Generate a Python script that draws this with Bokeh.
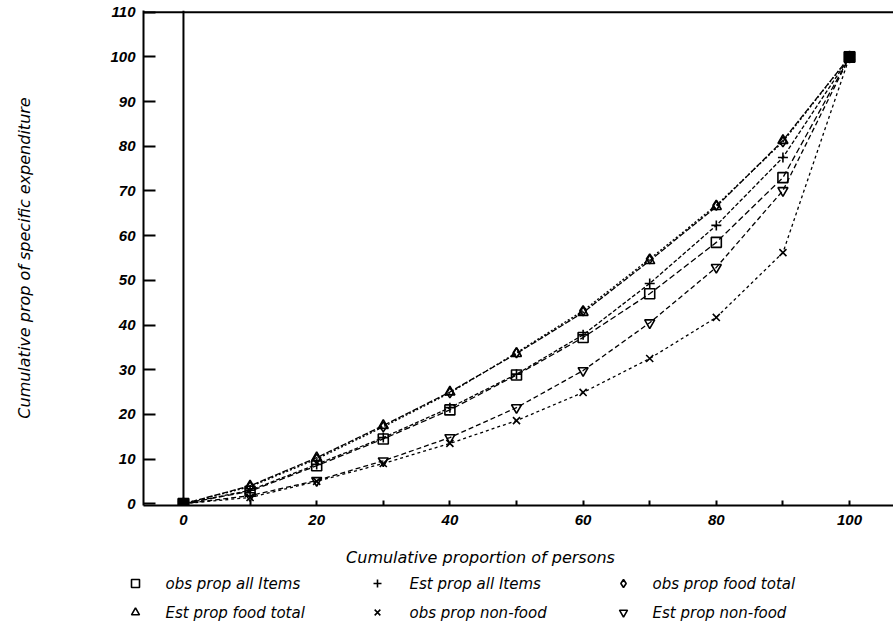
from bokeh.plotting import figure
from bokeh.layouts import column
from bokeh.models import Span, FixedTicker, Range1d
from bokeh.core.properties import value
from bokeh.embed import file_html
from bokeh.resources import INLINE

# ---- data ----
persons = [0, 10, 20, 30, 40, 50, 60, 70, 80, 90, 100]
obs_all_items = [0, 2.8, 8.5, 14.5, 21.0, 28.8, 37.2, 47.0, 58.5, 73.0, 100]
est_all_items = [0, 3.0, 8.8, 14.8, 21.5, 29.0, 37.8, 49.3, 62.3, 77.5, 100]
obs_food_total = [0, 3.8, 10.0, 17.2, 24.8, 33.8, 43.2, 54.8, 66.8, 81.0, 100]
est_food_total = [0, 4.0, 10.3, 17.5, 25.0, 33.6, 42.8, 54.4, 66.5, 81.3, 100]
obs_non_food = [0, 1.4, 5.0, 9.0, 13.5, 18.6, 24.9, 32.5, 41.7, 56.2, 100]
est_non_food = [0, 1.8, 5.2, 9.6, 14.8, 21.5, 29.8, 40.5, 52.9, 70.1, 100]

series_names = ["obs prop all Items", "Est prop all Items", "obs prop food total",
                "Est prop food total", "obs prop non-food", "Est prop non-food"]
x_ticks = [0, 10, 20, 30, 40, 50, 60, 70, 80, 90, 100]
x_tick_labels = ["0", "", "20", "", "40", "", "60", "", "80", "", "100"]
y_ticks = [0, 10, 20, 30, 40, 50, 60, 70, 80, 90, 100, 110]
x_title = "Cumulative proportion of persons"
y_title = "Cumulative prop of specific expenditure"

TICK_FONT = "Liberation Sans"
TEXT_FONT = "DejaVu Sans"

# ---------------- main chart ----------------
p = figure(width=893, height=540, x_range=Range1d(-6, 106.6), y_range=Range1d(-0.4, 110.4),
           output_backend="svg", toolbar_location=None,
           min_border_left=143, min_border_top=10, min_border_right=0, min_border_bottom=35)
p.outline_line_color = None
p.grid.visible = False

p.xaxis.ticker = FixedTicker(ticks=x_ticks)
p.xaxis.major_label_overrides = {t: l for t, l in zip(x_ticks, x_tick_labels)}
p.xaxis.minor_tick_line_color = None
p.xaxis.major_tick_in = 5
p.xaxis.major_tick_out = 0
p.xaxis.major_label_standoff = 9
p.yaxis.ticker = FixedTicker(ticks=y_ticks)
p.yaxis.minor_tick_line_color = None
p.yaxis.major_tick_in = 12
p.yaxis.major_tick_out = 0
p.yaxis.major_label_standoff = 8
for ax in (p.xaxis, p.yaxis):
    ax.axis_line_color = "black"
    ax.axis_line_width = 2
    ax.major_tick_line_color = "black"
    ax.major_tick_line_width = 2
    ax.major_label_text_font = TICK_FONT
    ax.major_label_text_font_style = "bold italic"
    ax.major_label_text_font_size = "15px"
    ax.major_label_text_color = "black"

p.yaxis.axis_label = y_title
p.yaxis.axis_label_text_font = TEXT_FONT
p.yaxis.axis_label_text_font_style = "italic"
p.yaxis.axis_label_text_font_size = "16px"
p.yaxis.axis_label_text_color = "black"
p.yaxis.axis_label_standoff = 73

# frame lines: top border and vertical line at x = 0
p.add_layout(Span(location=110, dimension="width", line_color="black", line_width=2))
p.add_layout(Span(location=0, dimension="height", line_color="black", line_width=2))

styles = [
    (obs_all_items, "square", "6 3"),
    (est_all_items, "cross", "4 2"),
    (obs_food_total, "diamond", "2 2"),
    (est_food_total, "triangle", "6 2"),
    (obs_non_food, "x", "3 3"),
    (est_non_food, "inverted_triangle", "5 3"),
]

for ys, marker, dash in styles:
    p.line(persons, ys, line_color="black", line_width=1.3, line_dash=dash)
    p.scatter(persons, ys, marker=marker, size=10, line_color="black",
              fill_color=None, line_width=1.6)

# end points where all series meet (appear filled in the reference)
p.scatter([persons[0], persons[-1]], [obs_all_items[0], obs_all_items[-1]], marker="square",
          size=11, fill_color="black", line_color="black")

# ---------------- x title + legend strip (page pixel coordinates) ----------------
q = figure(width=893, height=88, x_range=Range1d(0, 893), y_range=Range1d(88, 0),
           output_backend="svg", toolbar_location=None, min_border=0)
q.frame_align = False
q.axis.visible = False
q.grid.visible = False
q.outline_line_color = None

q.text(x=[480], y=[17], text=[x_title], text_font=value(TEXT_FONT),
       text_font_style="italic", text_font_size="16px", text_align="center",
       text_baseline="middle", text_color="black")

marker_x = [135, 377, 623]
text_x = [165, 409, 652]
row_y = [43, 72]
for i, (name, (ys, marker, dash)) in enumerate(zip(series_names, styles)):
    col, row = i % 3, i // 3
    q.scatter([marker_x[col]], [row_y[row]], marker=marker, size=8, line_color="black",
              fill_color=None, line_width=1.6)
    q.text(x=[text_x[col]], y=[row_y[row]], text=[name], text_font=value(TEXT_FONT),
           text_font_style="italic", text_font_size="15px", text_align="left",
           text_baseline="middle", text_color="black")

layout = column(p, q, spacing=0)
open("out.html", "w").write(file_html(layout, INLINE))
